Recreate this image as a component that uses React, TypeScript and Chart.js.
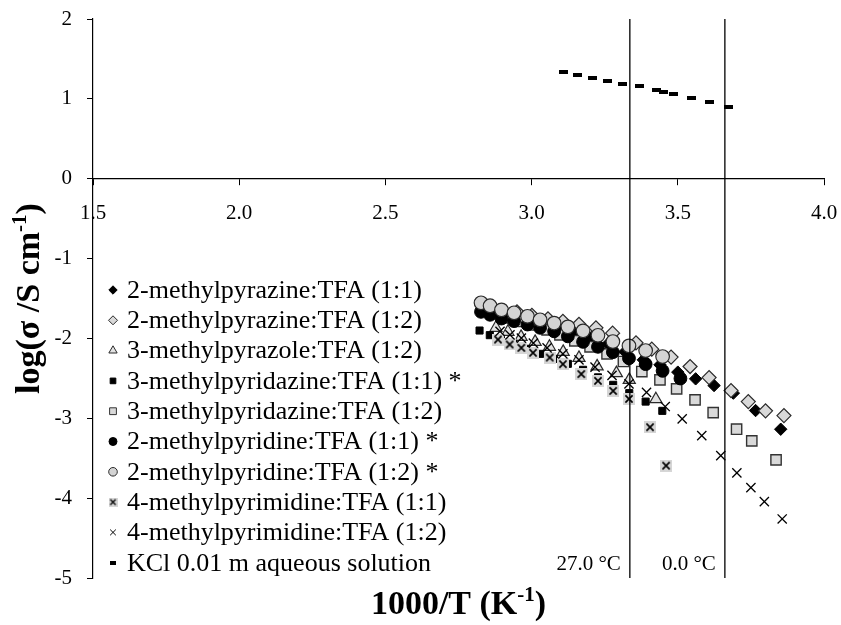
import React, { useEffect, useRef } from 'react';
import { Chart, registerables } from 'chart.js';
import { drawPoint } from 'chart.js/helpers';

Chart.register(...registerables);

// ---------- data ----------
const SERIES_LABELS = [
  '2-methylpyrazine:TFA (1:1)',
  '2-methylpyrazine:TFA (1:2)',
  '3-methylpyrazole:TFA (1:2)',
  '3-methylpyridazine:TFA (1:1) *',
  '3-methylpyridazine:TFA (1:2)',
  '2-methylpyridine:TFA (1:1) *',
  '2-methylpyridine:TFA (1:2) *',
  '4-methylpyrimidine:TFA (1:1)',
  '4-methylpyrimidine:TFA (1:2)',
  'KCl 0.01 m aqueous solution',
];

const X_MPZ_11 = [3.046, 3.097, 3.152, 3.207, 3.261, 3.319, 3.382, 3.439, 3.500, 3.561, 3.624, 3.690, 3.766, 3.852];
const Y_MPZ_11 = [-1.792, -1.842, -1.905, -1.980, -2.068, -2.168, -2.268, -2.331, -2.422, -2.506, -2.590, -2.685, -2.903, -3.137];

const X_MPZ_12 = [2.950, 3.001, 3.056, 3.107, 3.162, 3.220, 3.277, 3.357, 3.411, 3.477, 3.542, 3.607, 3.682, 3.741, 3.800, 3.863];
const Y_MPZ_12 = [-1.667, -1.711, -1.754, -1.786, -1.823, -1.867, -1.934, -2.055, -2.134, -2.234, -2.352, -2.490, -2.653, -2.791, -2.907, -2.966];

const X_MPYRAZOLE_12 = [2.878, 2.919, 2.964, 3.012, 3.061, 3.108, 3.162, 3.224, 3.290, 3.334, 3.425];
const Y_MPYRAZOLE_12 = [-1.867, -1.917, -1.980, -2.043, -2.105, -2.168, -2.243, -2.350, -2.435, -2.519, -2.761];

const X_MPDZ_11 = [2.822, 2.857, 2.895, 2.936, 2.981, 3.029, 3.077, 3.124, 3.176, 3.227, 3.279, 3.334, 3.390, 3.447];
const Y_MPDZ_11 = [-1.901, -1.959, -2.018, -2.068, -2.130, -2.193, -2.256, -2.318, -2.393, -2.487, -2.581, -2.685, -2.791, -2.907];

const X_MPDZ_12 = [2.909, 2.957, 3.005, 3.053, 3.097, 3.148, 3.200, 3.258, 3.314, 3.377, 3.439, 3.496, 3.559, 3.621, 3.701, 3.753, 3.836];
const Y_MPDZ_12 = [-1.742, -1.786, -1.830, -1.892, -1.955, -2.030, -2.105, -2.193, -2.289, -2.415, -2.519, -2.632, -2.769, -2.929, -3.137, -3.283, -3.521];

const X_MPY_11 = [2.827, 2.858, 2.897, 2.940, 2.986, 3.029, 3.077, 3.124, 3.176, 3.227, 3.278, 3.333, 3.390, 3.448, 3.509];
const Y_MPY_11 = [-1.667, -1.704, -1.751, -1.783, -1.826, -1.867, -1.911, -1.974, -2.043, -2.105, -2.172, -2.249, -2.322, -2.406, -2.502];

const X_MPY_12 = [2.827, 2.858, 2.897, 2.940, 2.986, 3.029, 3.077, 3.124, 3.176, 3.227, 3.278, 3.333, 3.390, 3.448];
const Y_MPY_12 = [-1.554, -1.591, -1.642, -1.679, -1.723, -1.767, -1.808, -1.855, -1.905, -1.961, -2.039, -2.093, -2.152, -2.227];

const X_MPM_11 = [2.885, 2.925, 2.965, 3.005, 3.062, 3.107, 3.170, 3.227, 3.279, 3.333, 3.405, 3.460];
const Y_MPM_11 = [-2.014, -2.076, -2.118, -2.180, -2.239, -2.322, -2.447, -2.531, -2.657, -2.757, -3.112, -3.593];

const X_MPM_12 = [2.892, 2.926, 2.965, 3.006, 3.053, 3.107, 3.162, 3.217, 3.275, 3.333, 3.393, 3.457, 3.515, 3.582, 3.647, 3.702, 3.750, 3.796, 3.857];
const Y_MPM_12 = [-1.911, -1.955, -1.996, -2.059, -2.118, -2.193, -2.268, -2.360, -2.462, -2.569, -2.675, -2.853, -3.008, -3.217, -3.467, -3.684, -3.868, -4.044, -4.261];

const X_KCL = [3.109, 3.157, 3.207, 3.258, 3.312, 3.369, 3.426, 3.451, 3.484, 3.547, 3.607, 3.674];
const Y_KCL = [1.332, 1.303, 1.266, 1.228, 1.190, 1.157, 1.111, 1.090, 1.061, 1.006, 0.956, 0.893];

const SERIES_X = [X_MPZ_11, X_MPZ_12, X_MPYRAZOLE_12, X_MPDZ_11, X_MPDZ_12, X_MPY_11, X_MPY_12, X_MPM_11, X_MPM_12, X_KCL];
const SERIES_Y = [Y_MPZ_11, Y_MPZ_12, Y_MPYRAZOLE_12, Y_MPDZ_11, Y_MPDZ_12, Y_MPY_11, Y_MPY_12, Y_MPM_11, Y_MPM_12, Y_KCL];

const TEMP_LINE_X = [3.336, 3.661];
const TEMP_LABELS = ['27.0 °C', '0.0 °C'];

const X_TITLE = ['1000/T (K', '-1', ')'];
const Y_TITLE = ['log(σ /S cm', '-1', ')'];

// ---------- styles ----------
const FONT = '"Liberation Serif", "Times New Roman", serif';
const TICK_SIZE = 21;
const LEGEND_SIZE = 26;
const TITLE_SIZE = 34;
const SUP_SIZE = 21;

function makeXSquare(size: number, lw: number) {
  const c = document.createElement('canvas');
  c.width = size;
  c.height = size;
  const g = c.getContext('2d')!;
  g.fillStyle = '#d6d6d6';
  g.fillRect(0, 0, size, size);
  g.strokeStyle = '#000';
  g.lineWidth = lw;
  const m = size * 0.2;
  g.beginPath();
  g.moveTo(m, m);
  g.lineTo(size - m, size - m);
  g.moveTo(size - m, m);
  g.lineTo(m, size - m);
  g.stroke();
  return c;
}

function makeDash(w: number, h: number) {
  const c = document.createElement('canvas');
  c.width = w;
  c.height = h;
  const g = c.getContext('2d')!;
  g.fillStyle = '#000';
  g.fillRect(0, 0, w, h);
  return c;
}

type Sty = { style: any; r: number; bg: string; bd: string; bw: number; lr: number; lstyle?: any };

function buildStyles(): Sty[] {
  return [
    { style: 'rectRot', r: 6.2, bg: '#000', bd: '#000', bw: 1, lr: 4.2 },
    { style: 'rectRot', r: 7, bg: '#d9d9d9', bd: '#2a2a2a', bw: 1.2, lr: 4.5 },
    { style: 'triangle', r: 7, bg: '#e2e2e2', bd: '#2a2a2a', bw: 1.2, lr: 4.8 },
    { style: 'rect', r: 5, bg: '#000', bd: '#000', bw: 1, lr: 4 },
    { style: 'rect', r: 7.3, bg: '#d9d9d9', bd: '#333', bw: 1.4, lr: 4.8 },
    { style: 'circle', r: 6.4, bg: '#000', bd: '#000', bw: 1, lr: 4 },
    { style: 'circle', r: 6.8, bg: '#d4d4d4', bd: '#2a2a2a', bw: 1.2, lr: 4.3 },
    { style: makeXSquare(12, 1.7), r: 6, bg: '#d6d6d6', bd: '#000', bw: 0, lr: 4, lstyle: makeXSquare(9, 1.3) },
    { style: 'crossRot', r: 6.5, bg: '#000', bd: '#000', bw: 1.3, lr: 4 },
    { style: makeDash(9, 4), r: 5, bg: '#000', bd: '#000', bw: 0, lr: 4, lstyle: makeDash(6, 4) },
  ];
}

function drawTitle(ctx: CanvasRenderingContext2D, parts: string[], cx: number, cy: number, rotate: boolean) {
  ctx.save();
  ctx.translate(cx, cy);
  if (rotate) ctx.rotate(-Math.PI / 2);
  const mainFont = `bold ${TITLE_SIZE}px ${FONT}`;
  const supFont = `bold ${SUP_SIZE}px ${FONT}`;
  ctx.font = mainFont;
  const w1 = ctx.measureText(parts[0]).width;
  const w3 = ctx.measureText(parts[2]).width;
  ctx.font = supFont;
  const w2 = ctx.measureText(parts[1]).width;
  let x = -(w1 + w2 + w3) / 2;
  const base = TITLE_SIZE * 0.33;
  ctx.fillStyle = '#000';
  ctx.textAlign = 'left';
  ctx.textBaseline = 'alphabetic';
  ctx.font = mainFont;
  ctx.fillText(parts[0], x, base);
  x += w1;
  ctx.font = supFont;
  ctx.fillText(parts[1], x, base - TITLE_SIZE * 0.4);
  x += w2;
  ctx.font = mainFont;
  ctx.fillText(parts[2], x, base);
  ctx.restore();
}

export default function App() {
  const ref = useRef<HTMLCanvasElement>(null);

  useEffect(() => {
    document.body.style.margin = '0';
    const styles = buildStyles();
    const n = SERIES_LABELS.length;

    const datasets = SERIES_LABELS.map((label, i) => ({
      label,
      data: SERIES_X[i].map((x, j) => ({ x, y: SERIES_Y[i][j] })),
      showLine: false,
      pointStyle: styles[i].style,
      pointRadius: styles[i].r,
      pointBackgroundColor: styles[i].bg,
      pointBorderColor: styles[i].bd,
      pointBorderWidth: styles[i].bw,
      order: n - i,
    }));

    const overlay = {
      id: 'overlay',
      afterDatasetsDraw(chart: any) {
        const { ctx, chartArea, scales } = chart;
        const xs = scales.x;
        ctx.save();
        ctx.strokeStyle = '#000';
        ctx.lineWidth = 1.3;
        TEMP_LINE_X.forEach((v) => {
          const px = xs.getPixelForValue(v);
          ctx.beginPath();
          ctx.moveTo(px, chartArea.top);
          ctx.lineTo(px, chartArea.bottom);
          ctx.stroke();
        });
        ctx.fillStyle = '#000';
        ctx.font = `${TICK_SIZE}px ${FONT}`;
        ctx.textAlign = 'right';
        ctx.textBaseline = 'alphabetic';
        TEMP_LINE_X.forEach((v, i) => {
          const px = xs.getPixelForValue(v);
          ctx.fillText(TEMP_LABELS[i], px - 9, chartArea.bottom - 8);
        });
        ctx.restore();
      },
      afterDraw(chart: any) {
        const { ctx, chartArea } = chart;
        ctx.save();
        // legend
        ctx.font = `${LEGEND_SIZE}px ${FONT}`;
        ctx.textAlign = 'left';
        ctx.textBaseline = 'middle';
        SERIES_LABELS.forEach((label, i) => {
          const cy = 290 + 30.3 * i;
          const s = styles[i];
          ctx.fillStyle = s.bg;
          ctx.strokeStyle = s.bd;
          ctx.lineWidth = 1;
          drawPoint(ctx, { pointStyle: s.lstyle || s.style, radius: s.lr, rotation: 0, borderWidth: s.bw ? 1 : 0 } as any, 113, cy);
          ctx.fillStyle = '#000';
          ctx.fillText(label, 127, cy + 1);
        });
        // axis titles
        drawTitle(ctx, X_TITLE, (chartArea.left + chartArea.right) / 2, 603, false);
        drawTitle(ctx, Y_TITLE, 28, (chartArea.top + chartArea.bottom) / 2, true);
        ctx.restore();
      },
    };

    const axisCommon = {
      grid: { display: true, drawOnChartArea: false, drawTicks: true, tickLength: 6, color: '#000', lineWidth: 1 },
      border: { display: true, color: '#000', width: 1.2 },
    };

    const chart = new Chart(ref.current!, {
      type: 'scatter',
      data: { datasets } as any,
      options: {
        animation: false,
        responsive: false,
        devicePixelRatio: 1,
        layout: { padding: { left: 0, right: 17, top: 19, bottom: 47 } },
        plugins: { legend: { display: false }, tooltip: { enabled: false } },
        scales: {
          x: {
            type: 'linear',
            position: { y: 0 } as any,
            min: 1.5,
            max: 4.0,
            ticks: {
              stepSize: 0.5,
              autoSkip: false,
              maxRotation: 0,
              padding: 16,
              color: '#000',
              font: { family: FONT, size: TICK_SIZE },
              callback: (v: any) => Number(v).toFixed(1),
            },
            afterFit: (s: any) => {
              s.paddingLeft = 0;
              s.paddingRight = 4;
            },
            ...axisCommon,
          },
          y: {
            type: 'linear',
            position: 'left',
            min: -5,
            max: 2,
            ticks: {
              stepSize: 1,
              padding: 15,
              color: '#000',
              font: { family: FONT, size: TICK_SIZE },
            },
            afterFit: (s: any) => {
              s.width = 93;
              s.paddingTop = 4;
              s.paddingBottom = 4;
            },
            ...axisCommon,
          },
        },
      } as any,
      plugins: [overlay],
    });

    return () => chart.destroy();
  }, []);

  return (
    <div style={{ width: 841, height: 625 }}>
      <canvas ref={ref} width={841} height={625} style={{ display: 'block' }} />
    </div>
  );
}
